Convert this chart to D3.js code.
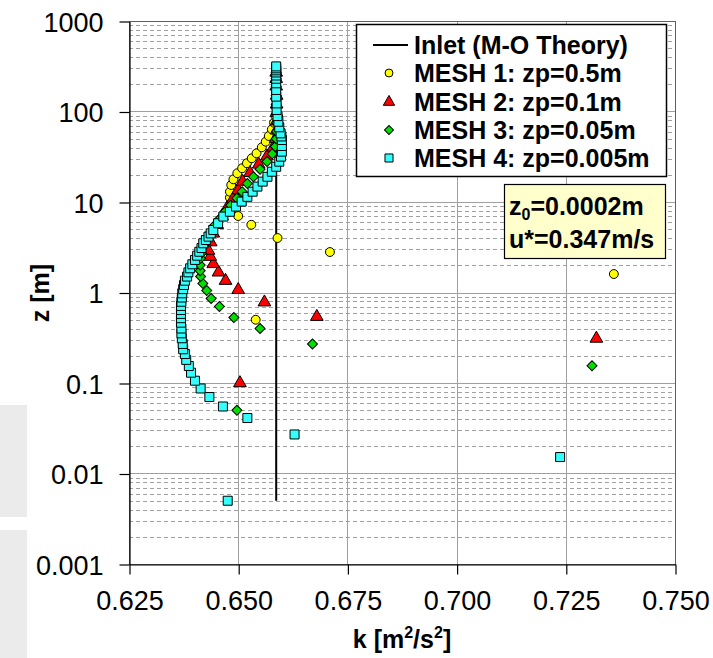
<!DOCTYPE html>
<html>
<head>
<meta charset="utf-8">
<script src="https://cdn.jsdelivr.net/npm/d3@7"></script>
<style>
  body { margin: 0; background: #fff; }
  svg { display: block; font-family: "Liberation Sans", Arial, sans-serif; }
</style>
</head>
<body>
<div id="chart"></div>
<script>
// k [m2/s2] vs z [m]
const inlet_k = [0.6587, 0.6587];
const inlet_z = [0.005, 300];

const mesh1_k = [0.654, 0.736, 0.671, 0.659, 0.653, 0.650, 0.6487, 0.6481, 0.6481, 0.6484, 0.6489, 0.6498, 0.6509, 0.652, 0.6531, 0.6542, 0.6554, 0.6563, 0.657, 0.6577, 0.6582, 0.6585, 0.6587, 0.6587, 0.6587, 0.6587, 0.6587];
const mesh1_z = [0.5, 1.6, 2.8, 4.0, 5.6, 7.0, 8.6, 11.2, 13.0, 15.4, 17.8, 20.8, 23.6, 26.8, 30.4, 34.5, 40.2, 46.4, 53.6, 63.5, 75.2, 90, 110, 135, 170, 210, 260];

const mesh2_k = [0.6504, 0.732, 0.668, 0.656, 0.650, 0.6471, 0.6455, 0.6443, 0.6436, 0.6432, 0.6437, 0.6443, 0.6452, 0.6463, 0.6475, 0.6488, 0.650, 0.651, 0.6527, 0.6547, 0.6566, 0.658, 0.6586, 0.6588, 0.6588, 0.6588, 0.6588, 0.6588, 0.6587, 0.6587, 0.6587];
const mesh2_z = [0.1, 0.31, 0.54, 0.78, 1.07, 1.35, 1.67, 2.07, 2.49, 2.9, 3.6, 4.5, 5.6, 7, 8.7, 10.8, 13.5, 16.8, 21, 26, 32, 40, 50, 62, 78, 97, 120, 150, 190, 230, 270];

const mesh3_k = [0.6497, 0.731, 0.667, 0.655, 0.649, 0.6457, 0.6438, 0.6428, 0.6419, 0.6414, 0.6413, 0.6413, 0.6414, 0.6416, 0.642, 0.6426, 0.6434, 0.6444, 0.6456, 0.6469, 0.6483, 0.6497, 0.6509, 0.6521, 0.6535, 0.655, 0.6566, 0.6578, 0.6585, 0.6587, 0.6588, 0.6588, 0.6588, 0.6587, 0.6587, 0.6587, 0.6587, 0.6587];
const mesh3_z = [0.05, 0.155, 0.27, 0.40, 0.53, 0.70, 0.86, 1.05, 1.26, 1.5, 1.74, 2.01, 2.39, 2.71, 3.2, 3.8, 4.5, 5.4, 6.4, 7.7, 9.2, 11, 13, 16, 19, 23, 28, 34, 41, 50, 60, 75, 95, 120, 150, 190, 230, 270];

const mesh4_k = [0.6476, 0.7237, 0.6629, 0.6521, 0.6465, 0.6434, 0.6414, 0.6401, 0.6392, 0.6387, 0.6381, 0.6378, 0.6374, 0.6373, 0.6371, 0.637, 0.637, 0.6369, 0.6369, 0.6369, 0.6369, 0.6369, 0.637, 0.6371, 0.6372, 0.6374, 0.6376, 0.6378, 0.6383, 0.6386, 0.639, 0.6395, 0.6401, 0.6406, 0.6411, 0.6416, 0.642, 0.6426, 0.6432, 0.6437, 0.6443, 0.6454, 0.6466, 0.6481, 0.6495, 0.6508, 0.6521, 0.6533, 0.6544, 0.6556, 0.6567, 0.6577, 0.6587, 0.6594, 0.6598, 0.66, 0.66, 0.66, 0.6599, 0.6597, 0.6594, 0.6592, 0.659, 0.6588, 0.6588, 0.6587, 0.6587, 0.6587, 0.6587, 0.6587, 0.6587, 0.6587, 0.6587, 0.6587];
const mesh4_z = [0.005, 0.0152, 0.027, 0.041, 0.055, 0.07, 0.087, 0.106, 0.13, 0.154, 0.18, 0.209, 0.236, 0.27, 0.312, 0.354, 0.40, 0.464, 0.52, 0.58, 0.64, 0.71, 0.79, 0.88, 0.98, 1.09, 1.21, 1.35, 1.5, 1.67, 1.85, 2.05, 2.29, 2.55, 2.82, 3.1, 3.5, 3.8, 4.14, 4.5, 4.91, 5.82, 6.9, 7.8, 8.9, 10.1, 11.4, 13.0, 14.8, 16.8, 19.0, 21.6, 24.5, 27.9, 31.7, 36, 41.6, 48.4, 53, 57.4, 66.9, 77, 89, 104, 123, 146, 173, 205, 230, 250, 270, 285, 300, 315];

const x_ticks = [0.625, 0.650, 0.675, 0.700, 0.725, 0.750];
const y_ticks = [0.001, 0.01, 0.1, 1, 10, 100, 1000];
const y_tick_labels = ["0.001", "0.01", "0.1", "1", "10", "100", "1000"];
const legend_labels = ["Inlet (M-O Theory)", "MESH 1: zp=0.5m", "MESH 2: zp=0.1m", "MESH 3: zp=0.05m", "MESH 4: zp=0.005m"];

function draw_chart() {
    const width = 713;
    const height = 658;
    const margin_left = 129;
    const margin_right = 675;
    const margin_top = 21;
    const margin_bottom = 564;
    const grid_color = "#a0a0a0";

    const svg = d3.select("#chart").append("svg")
        .attr("width", width)
        .attr("height", height);

    // grey screenshot leftovers at the left edge
    svg.append("rect").attr("x", 0).attr("y", 405).attr("width", 27).attr("height", 112).attr("fill", "#ebebeb");
    svg.append("rect").attr("x", 0).attr("y", 530).attr("width", 27).attr("height", 128).attr("fill", "#ebebeb");

    const xScale = d3.scaleLinear()
        .domain([0.625, 0.750])
        .range([margin_left, margin_right]);

    const yScale = d3.scaleLog()
        .domain([0.001, 1000])
        .range([margin_bottom, margin_top]);

    // minor horizontal grid (dashed)
    let minor = [];
    for (let e = -3; e < 3; e++) {
        for (let m = 2; m <= 9; m++) {
            minor.push(m * Math.pow(10, e));
        }
    }
    svg.append("g")
        .selectAll("line")
        .data(minor)
        .join("line")
        .attr("x1", margin_left)
        .attr("x2", margin_right)
        .attr("y1", d => Math.round(yScale(d)) + 0.5)
        .attr("y2", d => Math.round(yScale(d)) + 0.5)
        .attr("stroke", grid_color)
        .attr("stroke-dasharray", "4,3");

    // major grid
    svg.append("g")
        .selectAll("line")
        .data(y_ticks.slice(1, -1))
        .join("line")
        .attr("x1", margin_left)
        .attr("x2", margin_right)
        .attr("y1", d => Math.round(yScale(d)) + 0.5)
        .attr("y2", d => Math.round(yScale(d)) + 0.5)
        .attr("stroke", grid_color);

    svg.append("g")
        .selectAll("line")
        .data(x_ticks.slice(1, -1))
        .join("line")
        .attr("x1", d => Math.round(xScale(d)) + 0.5)
        .attr("x2", d => Math.round(xScale(d)) + 0.5)
        .attr("y1", margin_top)
        .attr("y2", margin_bottom)
        .attr("stroke", grid_color);

    // plot frame
    svg.append("rect")
        .attr("x", margin_left + 0.5)
        .attr("y", margin_top + 0.5)
        .attr("width", margin_right - margin_left)
        .attr("height", margin_bottom - margin_top)
        .attr("fill", "none")
        .attr("stroke", "#606060");

    // axes
    const xAxis = svg.append("g")
        .attr("transform", `translate(0.5,${margin_bottom + 0.5})`)
        .call(d3.axisBottom(xScale).tickValues(x_ticks).tickFormat(d3.format(".3f")).tickSize(10).tickSizeOuter(0).tickPadding(16));
    const yAxis = svg.append("g")
        .attr("transform", `translate(${margin_left + 0.5},0.5)`)
        .call(d3.axisLeft(yScale).tickValues(y_ticks).tickFormat((d, i) => y_tick_labels[i]).tickSize(10).tickSizeOuter(0).tickPadding(16));
    [xAxis, yAxis].forEach(a => {
        a.selectAll("path, line").attr("stroke", "#000").attr("stroke-width", 1.2);
        a.selectAll("text")
            .attr("font-family", "'Liberation Sans', Arial, sans-serif")
            .attr("font-size", 27)
            .attr("fill", "#000");
    });
    yAxis.selectAll("text").attr("dy", "0.36em");

    // axis titles
    const xtitle = svg.append("text")
        .attr("x", (margin_left + margin_right) / 2)
        .attr("y", 648)
        .attr("text-anchor", "middle")
        .attr("font-size", 25)
        .attr("font-weight", "bold");
    xtitle.append("tspan").text("k [m");
    xtitle.append("tspan").attr("font-size", 16).attr("dy", -10).text("2");
    xtitle.append("tspan").attr("dy", 10).text("/s");
    xtitle.append("tspan").attr("font-size", 16).attr("dy", -10).text("2");
    xtitle.append("tspan").attr("dy", 10).text("]");

    svg.append("text")
        .attr("transform", `translate(49,293) rotate(-90)`)
        .attr("text-anchor", "middle")
        .attr("font-size", 25)
        .attr("font-weight", "bold")
        .text("z [m]");

    // inlet profile
    const inlet = inlet_k.map((k, i) => [k, inlet_z[i]]);
    svg.append("path")
        .datum(inlet)
        .attr("d", d3.line().x(d => xScale(d[0])).y(d => yScale(d[1])))
        .attr("stroke", "#000")
        .attr("stroke-width", 2)
        .attr("fill", "none");

    const series = [
        {k: mesh1_k, z: mesh1_z, type: d3.symbolCircle, size: 62, rot: 0, fill: "#ffff00"},
        {k: mesh2_k, z: mesh2_z, type: d3.symbolTriangle, size: 70, rot: 0, fill: "#ff0000"},
        {k: mesh3_k, z: mesh3_z, type: d3.symbolSquare, size: 50, rot: 45, fill: "#00e000"},
        {k: mesh4_k, z: mesh4_z, type: d3.symbolSquare, size: 81, rot: 0, fill: "#33ffff"}
    ];

    series.forEach(s => {
        const pts = s.k.map((k, i) => [k, s.z[i]]);
        svg.append("g")
            .selectAll("path")
            .data(pts)
            .join("path")
            .attr("d", d3.symbol().type(s.type).size(s.size))
            .attr("transform", d => `translate(${xScale(d[0])},${yScale(d[1])}) rotate(${s.rot})`)
            .attr("fill", s.fill)
            .attr("stroke", "#000")
            .attr("stroke-width", 1);
    });

    // legend
    const legend = svg.append("g");
    legend.append("rect")
        .attr("x", 356.5).attr("y", 24.5)
        .attr("width", 310).attr("height", 152)
        .attr("fill", "#fff")
        .attr("stroke", "#000")
        .attr("stroke-width", 1.5);
    const row_y = [45, 73, 102, 130, 158];
    legend.append("line")
        .attr("x1", 373).attr("x2", 408)
        .attr("y1", row_y[0]).attr("y2", row_y[0])
        .attr("stroke", "#000").attr("stroke-width", 2);
    series.forEach((s, i) => {
        legend.append("path")
            .attr("d", d3.symbol().type(s.type).size(s.size * 0.8))
            .attr("transform", `translate(389,${row_y[i + 1]}) rotate(${s.rot})`)
            .attr("fill", s.fill)
            .attr("stroke", "#000");
    });
    legend.selectAll("text")
        .data(legend_labels)
        .join("text")
        .attr("x", 414)
        .attr("y", (d, i) => row_y[i] + 9)
        .attr("font-size", 25)
        .attr("font-weight", "bold")
        .text(d => d);

    // annotation box
    const note = svg.append("g");
    note.append("rect")
        .attr("x", 504.5).attr("y", 184.5)
        .attr("width", 161).attr("height", 74)
        .attr("fill", "#ffffcc")
        .attr("stroke", "#000")
        .attr("stroke-width", 1.2);
    const t1 = note.append("text")
        .attr("x", 509).attr("y", 215)
        .attr("font-size", 25)
        .attr("font-weight", "bold");
    t1.append("tspan").text("z");
    t1.append("tspan").attr("font-size", 16).attr("dy", 5).text("0");
    t1.append("tspan").attr("dy", -5).text("=0.0002m");
    note.append("text")
        .attr("x", 509).attr("y", 248)
        .attr("font-size", 25)
        .attr("font-weight", "bold")
        .text("u*=0.347m/s");
}

draw_chart();
</script>
</body>
</html>
